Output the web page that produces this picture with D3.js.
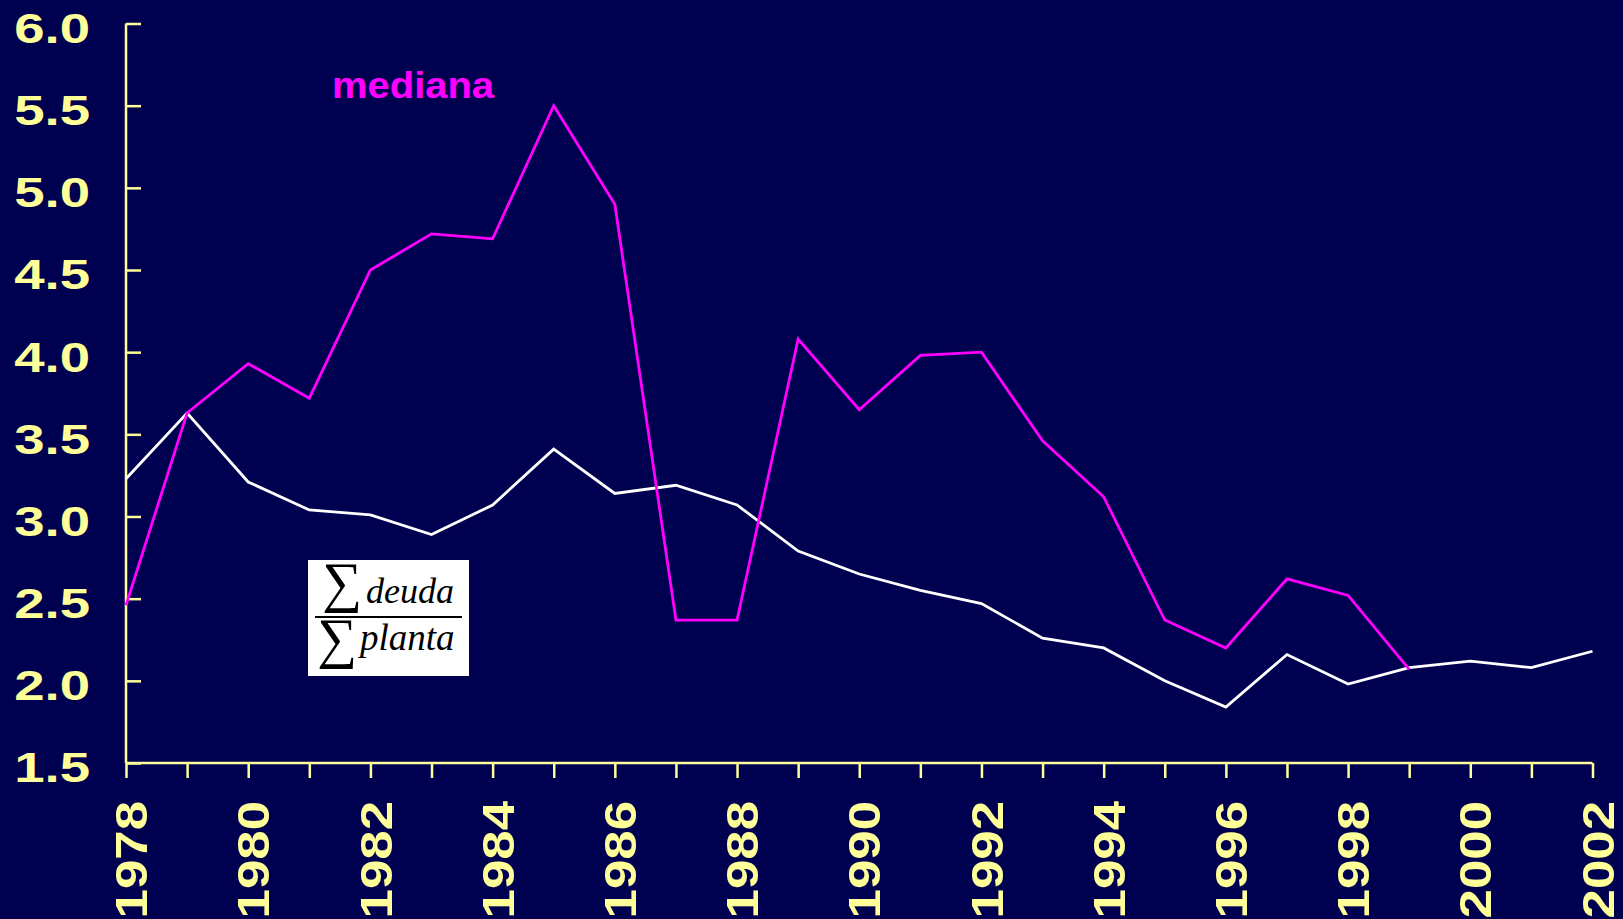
<!DOCTYPE html>
<html><head><meta charset="utf-8">
<script src="https://cdn.jsdelivr.net/npm/d3@7"></script>
<style>
html,body{margin:0;padding:0;background:#000050;overflow:hidden}
svg{display:block}
</style></head>
<body>
<svg id="c" width="1623" height="919"></svg>
<script>
const years = [1978,1979,1980,1981,1982,1983,1984,1985,1986,1987,1988,1989,1990,1991,1992,1993,1994,1995,1996,1997,1998,1999,2000,2001,2002];
const medianaValues = [2.46,3.63,3.93,3.72,4.50,4.72,4.69,5.50,4.90,2.37,2.37,4.08,3.65,3.98,4.00,3.46,3.12,2.37,2.20,2.62,2.52,2.07,null,null,null];
const ratioValues   = [3.23,3.63,3.21,3.04,3.01,2.89,3.07,3.41,3.14,3.19,3.07,2.79,2.65,2.55,2.47,2.26,2.20,2.00,1.84,2.16,1.98,2.08,2.12,2.08,2.18];
const yTicks = [1.5,2.0,2.5,3.0,3.5,4.0,4.5,5.0,5.5,6.0];
const xTickLabels = [1978,1980,1982,1984,1986,1988,1990,1992,1994,1996,1998,2000,2002];
const seriesLabel = "mediana";

const svg = d3.select("#c");
const YEL = "#FFFF99";
const mLeft = 126, mRight = 1592.5, mTop = 23.5, mBottom = 763;

svg.append("rect").attr("width",1623).attr("height",919).attr("fill","#000050");

const x = d3.scaleLinear().domain([1978,2002]).range([mLeft,mRight]);
const y = d3.scaleLinear().domain([1.5,6.0]).range([mBottom,mTop]);

// Y axis (ticks inward)
const yAxis = d3.axisLeft(y).tickValues(yTicks).tickSize(-15).tickFormat(d3.format(".1f"));
const gy = svg.append("g").attr("transform",`translate(${mLeft},0)`).call(yAxis);
gy.select(".domain").attr("stroke",YEL).attr("stroke-width",2.5).attr("d",`M0,${mTop}V${mBottom}`);
gy.selectAll(".tick line").attr("stroke",YEL).attr("stroke-width",2.5);
gy.selectAll(".tick text").attr("fill",YEL).attr("font-family","Liberation Sans, Arial, sans-serif")
  .attr("font-weight","bold").attr("font-size",42).attr("text-anchor","end")
  .attr("x",0).attr("dy","0.45em")
  .attr("transform","translate(-36,0) scale(1.3,1)");

// X axis (ticks outward)
const xAxis = d3.axisBottom(x).tickValues(years).tickSize(15).tickFormat(d => xTickLabels.includes(d) ? d : "");
const gx = svg.append("g").attr("transform",`translate(0,${mBottom})`).call(xAxis);
gx.select(".domain").attr("stroke",YEL).attr("stroke-width",2.5).attr("d",`M${mLeft},0H${mRight}`);
gx.selectAll(".tick line").attr("stroke",YEL).attr("stroke-width",2.5);
gx.selectAll(".tick text").attr("fill",YEL).attr("font-family","Liberation Sans, Arial, sans-serif")
  .attr("font-weight","bold").attr("font-size",44).attr("text-anchor","end")
  .attr("x",0).attr("y",0).attr("dy","0.47em")
  .attr("transform","translate(0,38) rotate(-90) scale(1.2,1)");

// lines
const line = d3.line().defined(d => d[1] != null).x(d => x(d[0])).y(d => y(d[1]));
svg.append("path").datum(years.map((yr,i)=>[yr,ratioValues[i]]))
  .attr("d",line).attr("fill","none").attr("stroke","#FFFFFF").attr("stroke-width",2.8);
svg.append("path").datum(years.map((yr,i)=>[yr,medianaValues[i]]))
  .attr("d",line).attr("fill","none").attr("stroke","#FF00FF").attr("stroke-width",2.8);

// label
svg.append("text").text(seriesLabel).attr("fill","#FF00FF")
  .attr("font-family","Liberation Sans, Arial, sans-serif").attr("font-weight","bold")
  .attr("font-size",37).attr("transform","translate(332,98) scale(1.08,1)");

// formula box
const fb = svg.append("g");
fb.append("rect").attr("x",308).attr("y",560).attr("width",161).attr("height",116).attr("fill","#FFFFFF");
const serif = "Liberation Serif, Times New Roman, serif";
fb.append("text").text("\u2211").attr("x",322).attr("y",601).attr("font-family",serif).attr("font-size",56).attr("fill","#000");
fb.append("text").text("deuda").attr("x",366).attr("y",603).attr("font-family",serif).attr("font-style","italic").attr("font-size",36).attr("fill","#000");
fb.append("line").attr("x1",315).attr("x2",462).attr("y1",617).attr("y2",617).attr("stroke","#000").attr("stroke-width",2);
fb.append("text").text("\u2211").attr("x",317).attr("y",657).attr("font-family",serif).attr("font-size",56).attr("fill","#000");
fb.append("text").text("planta").attr("x",360).attr("y",650).attr("font-family",serif).attr("font-style","italic").attr("font-size",37).attr("fill","#000");
</script>
</body></html>
